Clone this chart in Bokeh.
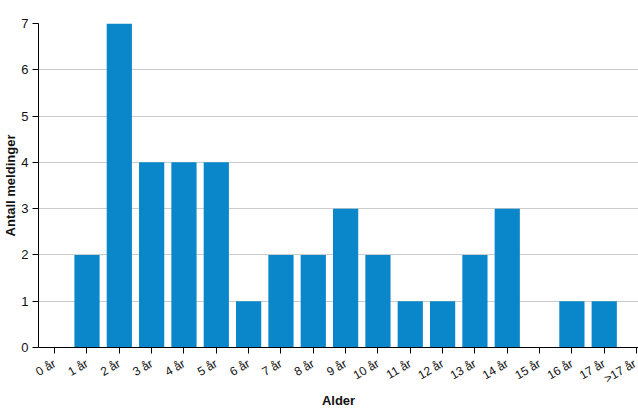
import math
from bokeh.plotting import figure
from bokeh.models import Range1d, FixedTicker, Title, ColumnDataSource
from bokeh.embed import file_html
from bokeh.resources import INLINE

categories = ["0 år", "1 år", "2 år", "3 år", "4 år", "5 år", "6 år", "7 år", "8 år",
              "9 år", "10 år", "11 år", "12 år", "13 år", "14 år", "15 år", "16 år",
              "17 år", ">17 år"]
values = [0, 2, 7, 4, 4, 4, 1, 2, 2, 3, 2, 1, 1, 2, 3, 0, 1, 1, 0]
y_ticks = [0, 1, 2, 3, 4, 5, 6, 7]

FONT = "Liberation Sans"
idx = list(range(len(categories)))
src = ColumnDataSource(dict(x=idx, top=values, cat=categories))

p = figure(width=638, height=415, output_backend="svg", toolbar_location=None,
           x_range=Range1d(-0.5, 18.06), y_range=Range1d(0, 7),
           min_border_left=38, min_border_right=0, min_border_top=23, min_border_bottom=68)
p.outline_line_color = None
p.background_fill_color = "white"
p.border_fill_color = "white"

p.vbar(x="x", top="top", width=0.78, bottom=0, source=src,
       fill_color="#0A87CA", line_color=None)

# axes
p.xaxis.ticker = FixedTicker(ticks=idx)
p.xaxis.major_label_overrides = {i: c for i, c in zip(idx, categories)}
p.xaxis.major_label_orientation = math.pi / 6
p.xaxis.minor_tick_line_color = None
p.xaxis.major_tick_out = 6
p.xaxis.major_tick_in = 0
p.xaxis.major_label_standoff = 9
p.xaxis.major_label_text_font = FONT
p.xaxis.major_label_text_font_size = "12px"
p.xaxis.major_label_text_color = "#111111"
p.xaxis.axis_line_color = "#000000"
p.xaxis.major_tick_line_color = "#000000"

p.yaxis.ticker = FixedTicker(ticks=y_ticks)
p.yaxis.minor_tick_line_color = None
p.yaxis.major_tick_out = 6
p.yaxis.major_tick_in = 0
p.yaxis.major_label_standoff = 4
p.yaxis.major_label_text_font = FONT
p.yaxis.major_label_text_font_size = "13px"
p.yaxis.major_label_text_color = "#111111"
p.yaxis.axis_line_color = "#000000"
p.yaxis.major_tick_line_color = "#000000"
p.yaxis.axis_label = "Antall meldinger"
p.yaxis.axis_label_text_font = FONT
p.yaxis.axis_label_text_font_size = "13px"
p.yaxis.axis_label_text_font_style = "bold"
p.yaxis.axis_label_text_color = "#111111"
p.yaxis.axis_label_standoff = 0

p.xgrid.grid_line_color = None
p.ygrid.grid_line_color = "#CCCCCC"
p.ygrid.grid_line_width = 1

p.add_layout(Title(text="Alder", align="center", offset=24, text_font=FONT,
                   text_font_size="13px", text_font_style="bold", text_color="#111111",
                   standoff=-7), "below")

open("out.html", "w").write(file_html(p, INLINE))
